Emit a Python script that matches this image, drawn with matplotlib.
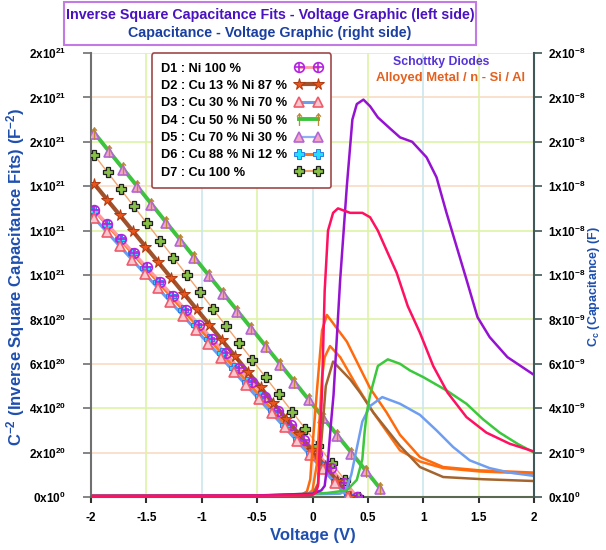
import numpy as np
import matplotlib
matplotlib.use('Agg')
import matplotlib.pyplot as plt
from matplotlib.lines import Line2D
from matplotlib.patches import Rectangle
from matplotlib.legend_handler import HandlerTuple
from matplotlib.ticker import FixedLocator, FuncFormatter

plt.rcParams['font.family'] = ['Liberation Sans', 'DejaVu Sans']
plt.rcParams['mathtext.fontset'] = 'custom'
plt.rcParams['mathtext.rm'] = 'Liberation Sans'
plt.rcParams['mathtext.bf'] = 'Liberation Sans:bold'
plt.rcParams['mathtext.it'] = 'Liberation Sans:italic'

# ---------------- data ----------------
labels = ['D1 : Ni 100 %', 'D2 : Cu 13 % Ni 87 %', 'D3 : Cu 30 % Ni 70 %',
          'D4 : Cu 50 % Ni 50 %', 'D5 : Cu 70 % Ni 30 %', 'D6 : Cu 88 % Ni 12 %',
          'D7 : Cu 100 %']
# linear fits C^-2 vs V (start / end points)
fit_v_start = [-1.97, -1.97, -1.97, -1.97, -1.97, -1.97, -1.97]
fit_c_start = [1.293e21, 1.41e21, 1.256e21, 1.64e21, 1.635e21, 1.29e21, 1.54e21]
fit_v_end = [0.40, 0.34, 0.32, 0.61, 0.61, 0.33, 0.41]
fit_c_end = [0.0, 0.0, 0.0, 3.9e19, 3.5e19, 0.5e19, 0.0]
fit_npts = 21

# C-V curves (right axis), capacitance in units of 1e-9 F
cv_purple_v = [-2, -0.5, 0.0, 0.08, 0.11, 0.14, 0.17, 0.19, 0.25, 0.31, 0.36, 0.40, 0.46,
               0.52, 0.59, 0.70, 0.79, 0.90, 1.03, 1.12, 1.21, 1.30, 1.39, 1.49, 1.60, 1.76, 2.0]
cv_purple_c = [0.05, 0.07, 0.15, 0.3, 0.5, 1.7, 3.5, 4.6, 9.8, 14.0, 17.0, 17.7, 17.9,
               17.6, 17.1, 16.6, 16.2, 16.0, 15.3, 14.4, 12.8, 11.3, 9.8, 8.1, 7.2, 6.3, 5.5]
cv_red_v = [-2, -0.5, -0.05, 0.0, 0.03, 0.05, 0.07, 0.086, 0.11, 0.14, 0.186, 0.23, 0.34,
            0.45, 0.52, 0.59, 0.67, 0.76, 0.86, 0.97, 1.09, 1.22, 1.39, 1.57, 1.78, 2.0]
cv_red_c = [0.05, 0.06, 0.08, 0.1, 0.2, 0.5, 2.9, 4.8, 9.3, 12.0, 12.8, 13.0, 12.8,
            12.8, 12.6, 12.0, 11.1, 10.1, 8.6, 7.4, 5.9, 4.7, 3.6, 2.9, 2.4, 2.05]
cv_orange1_v = [-2, -0.5, -0.1, -0.05, -0.02, 0.005, 0.04, 0.086, 0.13, 0.22, 0.31, 0.40,
                0.52, 0.67, 0.79, 0.97, 1.18, 1.51, 2.0]
cv_orange1_c = [0.05, 0.06, 0.1, 0.25, 0.8, 2.6, 4.8, 7.5, 8.2, 7.6, 7.0, 6.1,
                4.9, 3.8, 2.8, 1.8, 1.35, 1.2, 1.1]
cv_orange2_v = [-2, -0.5, -0.05, 0.0, 0.04, 0.086, 0.11, 0.158, 0.25, 0.40, 0.55, 0.79,
                0.97, 1.18, 1.51, 2.0]
cv_orange2_c = [0.05, 0.06, 0.1, 0.3, 1.5, 5.4, 6.3, 6.8, 6.3, 5.0, 3.8, 2.1,
                1.6, 1.3, 1.15, 1.05]
cv_brown_v = [-2, -0.5, 0.0, 0.05, 0.08, 0.12, 0.186, 0.34, 0.43, 0.55, 0.79, 0.97,
              1.18, 1.54, 2.0]
cv_brown_c = [0.05, 0.06, 0.1, 0.6, 2.5, 5.0, 6.1, 5.3, 4.7, 3.8, 2.3, 1.35,
              0.9, 0.8, 0.72]
cv_green_v = [-2, -0.5, 0.13, 0.31, 0.40, 0.45, 0.47, 0.49, 0.52, 0.59, 0.68, 0.79,
              0.88, 1.0, 1.21, 1.39, 1.54, 1.69, 1.85, 2.0]
cv_green_c = [0.05, 0.06, 0.18, 0.3, 0.77, 1.7, 2.9, 3.8, 4.6, 5.9, 6.2, 6.0,
              5.7, 5.4, 4.8, 4.2, 3.5, 2.9, 2.4, 2.0]
cv_blue_v = [-2, -0.5, 0.25, 0.30, 0.35, 0.40, 0.45, 0.52, 0.63, 0.79, 0.97, 1.12,
             1.27, 1.42, 1.60, 1.78, 2.0]
cv_blue_c = [0.05, 0.06, 0.15, 0.3, 1.0, 2.2, 3.4, 4.1, 4.5, 4.2, 3.7, 3.0,
             2.25, 1.65, 1.3, 1.1, 0.95]

left_ticks = np.arange(0, 2.01e21, 2e20)
right_ticks = np.arange(0, 2.01e-8, 2e-9)
x_ticks = [-2, -1.5, -1, -0.5, 0, 0.5, 1, 1.5, 2]
x_ticklabels = ['-2', '-1.5', '-1', '-0.5', '0', '0.5', '1', '1.5', '2']

# ---------------- styles ----------------
fit_line_colors = ['#FF9AA0', '#A0522D', '#6C9BEF', '#3DC43D', '#8FB0F5', '#FF7420', '#F2A46E']
fit_line_widths = [2.2, 3.0, 2.2, 2.8, 1.6, 2.2, 1.0]

fig = plt.figure(figsize=(6.06, 5.5), dpi=100)
ax = fig.add_axes([91/606, 1-497/550, (534-91)/606, (497-53)/550])
ax2 = ax.twinx()

ax.set_xlim(-2, 2)
ax.set_ylim(0, 2e21)
ax2.set_ylim(0, 2e-8)

# grid lines
for i, v in enumerate(left_ticks[1:], start=1):
    col = '#DDF4A6' if i % 2 == 0 else '#F8DCC4'
    ax.axhline(v, color=col, lw=1.2, zorder=0)
for i, v in enumerate([-1.5, -1, -0.5, 0, 0.5, 1, 1.5]):
    col = '#DDF4A6' if i % 2 == 0 else '#CBE6EE'
    ax.axvline(v, color=col, lw=1.2, zorder=0)


def fit_points(k):
    v = np.linspace(fit_v_start[k], fit_v_end[k], fit_npts)
    c = np.linspace(fit_c_start[k], fit_c_end[k], fit_npts)
    return v, c

order = [5, 6, 0, 1, 2, 4, 3]
marker_styles = {
    1: dict(marker='*', ms=8.5, mfc='#E8561E', mec='#B03A10', mew=0.7),
    2: dict(marker='^', ms=6.5, mfc='#F8C8D0', mec='#F05A6A', mew=1.2),
    3: dict(marker=r'$\uparrow$', ms=9, mfc='#B8862E', mec='#B8862E', mew=0.3),
    4: dict(marker='^', ms=6.5, mfc='#F4A6C6', mec='#B266D6', mew=1.2),
    5: dict(marker='P', ms=7, mfc='#1EE0FF', mec='#2C7CE8', mew=0.7),
    6: dict(marker='P', ms=6.5, mfc='#86C046', mec='#202020', mew=0.9),
}
hd = {}
for k in order:
    v, c = fit_points(k)
    ax.plot(v, c, color=fit_line_colors[k], lw=fit_line_widths[k], zorder=2)
    if k == 0:
        ax.plot(v, c, ls='none', marker='o', ms=7, mfc='none', mec='#B424E0', mew=1.2, zorder=3)
        ax.plot(v, c, ls='none', marker='+', ms=7, mec='#B424E0', mew=1.2, zorder=3)
        h1 = Line2D([], [], color=fit_line_colors[0], lw=2, marker='o', ms=7, mfc='none',
                    mec='#B424E0', mew=1.2)
        h2 = Line2D([], [], ls='none', marker='+', ms=7, mec='#B424E0', mew=1.2)
        hd[k] = (h1, h2)
    else:
        ms = marker_styles[k]
        ax.plot(v, c, ls='none', zorder=3, **ms)
        hd[k] = Line2D([], [], color=fit_line_colors[k], lw=max(fit_line_widths[k], 1.5), **ms)

# C-V curves
cv_sets = [
    (cv_orange2_v, cv_orange2_c, '#FF6F12'),
    (cv_brown_v, cv_brown_c, '#A3652F'),
    (cv_orange1_v, cv_orange1_c, '#FF6A0C'),
    (cv_blue_v, cv_blue_c, '#6E9EF2'),
    (cv_green_v, cv_green_c, '#3CC83C'),
    (cv_purple_v, cv_purple_c, '#9612D2'),
    (cv_red_v, cv_red_c, '#FF1060'),
]
for vv, cc, col in cv_sets:
    ax2.plot(vv, np.array(cc) * 1e-9, color=col, lw=1.8, zorder=2)


def sci_fmt(v, pos=None):
    if v <= 0:
        return r'$\mathbf{0x10^{0}}$'
    e = int(np.floor(np.log10(v) + 1e-9))
    m = int(round(v / 10 ** e))
    return r'$\mathbf{%dx10^{%d}}$' % (m, e)

ax.yaxis.set_major_locator(FixedLocator(left_ticks))
ax.yaxis.set_major_formatter(FuncFormatter(sci_fmt))
ax2.yaxis.set_major_locator(FixedLocator(right_ticks))
ax2.yaxis.set_major_formatter(FuncFormatter(sci_fmt))
ax.set_xticks(x_ticks)
ax.set_xticklabels(x_ticklabels, fontweight='bold')

ax.tick_params(axis='y', direction='out', length=6, width=1.2, color='#707070',
               labelsize=8.5, pad=12)
ax2.tick_params(axis='y', direction='out', length=6, width=1.2, color='#405858',
                labelsize=8.5, pad=4)
ax.tick_params(axis='x', direction='out', length=4.5, width=1.5, color='#303030',
               labelsize=8.5, pad=6)

for a in (ax, ax2):
    a.spines['top'].set_visible(False)
ax.spines['left'].set_color('#707070')
ax.spines['left'].set_linewidth(1.5)
ax2.spines['right'].set_color('#405858')
ax2.spines['right'].set_linewidth(1.5)
ax2.spines['left'].set_visible(False)
ax2.spines['bottom'].set_visible(False)
ax.spines['right'].set_visible(False)
ax.spines['bottom'].set_color('#5A6A50')
ax.spines['bottom'].set_linewidth(1.5)

blue_lbl = '#1F4FAF'
ax.set_xlabel('Voltage (V)', color=blue_lbl, fontsize=12, fontweight='bold', labelpad=3)
ax.set_ylabel(r'C$^{\mathbf{-2}}$ (Inverse Square Capacitance Fits) (F$^{\mathbf{-2}}$)',
              color=blue_lbl, fontsize=12, fontweight='bold')
ax.yaxis.set_label_coords((27 - 91) / 443, (497 - 277) / 444)
ax2.set_ylabel(r'C$_{\mathbf{c}}$ (Capacitance) (F)', color=blue_lbl, fontsize=9,
               fontweight='bold')
ax2.yaxis.set_label_coords((586 - 91) / 443, (497 - 287) / 444)

# legend
leg_handles = [hd[k] for k in range(7)]
leg = ax2.legend(leg_handles, labels, loc='upper left', bbox_to_anchor=(0.137, 1.0),
                 borderaxespad=0.0,
                 markerfirst=False, numpoints=2, handlelength=2.1, handletextpad=0.6,
                 labelspacing=0.42, borderpad=0.75, fancybox=True, framealpha=1,
                 prop={'weight': 'bold', 'size': 9.2},
                 handler_map={tuple: HandlerTuple(ndivide=1)})
leg.get_frame().set_edgecolor('#A04848')
leg.get_frame().set_linewidth(1.2)
leg.set_zorder(10)

# left-align legend texts while keeping the handles in one right-hand column
fig.canvas.draw()
renderer = fig.canvas.get_renderer()
widths = [t.get_window_extent(renderer).width for t in leg.get_texts()]
maxw = max(widths)
pt_per_px = 72.0 / fig.dpi
for column in leg._legend_handle_box.get_children():
    for row, w in zip(column.get_children(), widths):
        row.sep = row.sep + (maxw - w) * pt_per_px

fig.text(441/606, 1-62/550, 'Schottky Diodes', color='#5533D6', fontsize=8.8,
         fontweight='bold', ha='center', va='center')
fig.text(451/606, 1-78/550, 'Alloyed Metal / n - Si / Al', color='#E4601E', fontsize=9.4,
         fontweight='bold', ha='center', va='center')

# title box
fig.patches.append(Rectangle((64/606, 1-45/550), (476-64)/606, 43/550, transform=fig.transFigure,
                             fill=False, edgecolor='#C47AE4', lw=1.5))
fig.text(270/606, 1-15/550, 'Inverse Square Capacitance Fits - Voltage Graphic (left side)',
         color='#4A12C0', fontsize=10.3, fontweight='bold', ha='center', va='center')
fig.text(270/606, 1-33/550, 'Capacitance - Voltage Graphic (right side)',
         color='#1A3FA0', fontsize=10.3, fontweight='bold', ha='center', va='center')

fig.savefig('out.png', dpi=100)
